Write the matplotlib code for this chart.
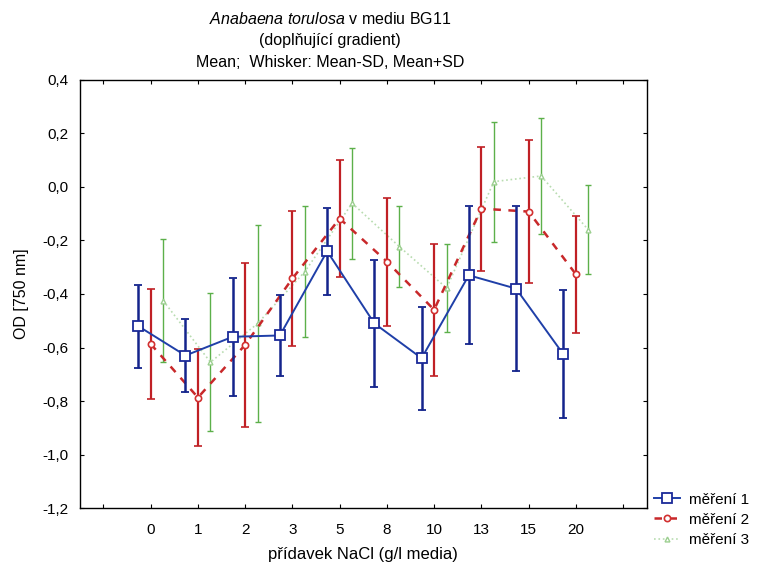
import numpy as np
import matplotlib
matplotlib.use("Agg")
import matplotlib.pyplot as plt
from matplotlib.lines import Line2D

plt.rcParams['font.family'] = ['Liberation Sans', 'DejaVu Sans']
plt.rcParams['mathtext.fontset'] = 'custom'
plt.rcParams['mathtext.it'] = 'Liberation Sans:italic'
plt.rcParams['mathtext.rm'] = 'Liberation Sans'

# categories (NaCl added, g/l)
nacl = ['0', '1', '2', '3', '5', '8', '10', '13', '15', '20']

# series: mean and SD
mean1 = [-0.52, -0.63, -0.56, -0.555, -0.24, -0.51, -0.64, -0.33, -0.38, -0.625]
sd1 = [0.155, 0.135, 0.22, 0.15, 0.162, 0.238, 0.192, 0.258, 0.307, 0.24]

mean2 = [-0.587, -0.787, -0.59, -0.342, -0.118, -0.279, -0.459, -0.081, -0.092, -0.326]
sd2 = [0.207, 0.18, 0.306, 0.252, 0.22, 0.239, 0.246, 0.232, 0.268, 0.218]

mean3 = [-0.425, -0.655, -0.51, -0.316, -0.061, -0.223, -0.378, 0.02, 0.041, -0.16]
sd3 = [0.229, 0.257, 0.368, 0.246, 0.208, 0.152, 0.164, 0.224, 0.218, 0.167]

labels = ['měření 1', 'měření 2', 'měření 3']

fig = plt.figure(figsize=(7.68, 5.67), dpi=100)
ax = fig.add_axes([0.104, 0.104, 0.738, 0.755])

x = np.arange(len(nacl))
off = 0.265

# styles for the three series
st3 = dict(color='#b8dcb0', ls=':', lw=1.2, marker='^', ms=3.5, mfc='white', mec='#9ccf90')
st2 = dict(color='#c8282a', ls=(0, (3, 3)), lw=1.8, marker='o', ms=4.5, mfc='white',
           mec='#d23030', mew=1.2)
st1 = dict(color='#1f3fa8', ls='-', lw=1.4, marker='s', ms=6.5, mfc='white',
           mec='#1a2a98', mew=1.3)

# series 3 - light green dotted
ax.errorbar(x + off, mean3, yerr=sd3, ecolor='#5cb04a', elinewidth=1.0, capsize=2.5,
            capthick=1.0, zorder=2, **st3)
# series 2 - red dashed
ax.errorbar(x, mean2, yerr=sd2, ecolor='#c02025', elinewidth=1.6, capsize=3,
            capthick=1.6, zorder=3, **st2)
# series 1 - dark blue solid
ax.errorbar(x - off, mean1, yerr=sd1, ecolor='#14248c', elinewidth=1.8, capsize=3,
            capthick=1.6, zorder=4, **st1)

ax.set_xlim(-1.5, 10.5)
ax.set_ylim(-1.2, 0.4)
ax.set_xticks(np.arange(-1, 11))
ax.set_xticklabels([''] + nacl + [''])
yt = np.arange(-1.2, 0.41, 0.2)
ax.set_yticks(yt)
ax.set_yticklabels([('%.1f' % v).replace('.', ',').replace('-0,0', '0,0') for v in yt])
ax.tick_params(direction='in', top=True, right=True, length=3, width=0.8,
               labelsize=11, pad=8)
ax.tick_params(axis='x', pad=11)
for s in ax.spines.values():
    s.set_linewidth(1.0)

ax.set_ylabel('OD [750 nm]', fontsize=11.5, labelpad=10)
ax.set_xlabel('přídavek NaCl (g/l media)', fontsize=12, labelpad=7)

fig.text(0.43, 0.967, r'$\it{Anabaena\ torulosa}$ v mediu BG11', ha='center', va='center', fontsize=11.5)
fig.text(0.43, 0.929, '(doplňující gradient)', ha='center', va='center', fontsize=11.5)
fig.text(0.43, 0.89, 'Mean;  Whisker: Mean-SD, Mean+SD', ha='center', va='center', fontsize=11.5)

handles = [Line2D([], [], **st1), Line2D([], [], **st2), Line2D([], [], **st3)]
fig.legend(handles, labels, loc='upper left', bbox_to_anchor=(0.852, 0.131),
           frameon=False, fontsize=11, handlelength=1.65, handletextpad=0.65,
           labelspacing=0.4, borderaxespad=0, borderpad=0)

fig.savefig('out.png', dpi=100)
